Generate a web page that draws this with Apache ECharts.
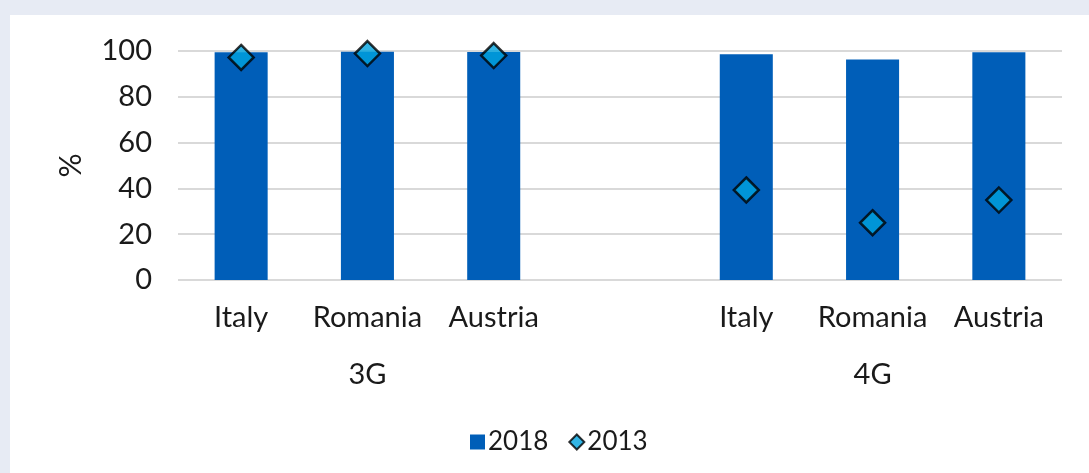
<!DOCTYPE html>
<html>
<head>
<meta charset="utf-8">
<script src="https://cdn.jsdelivr.net/npm/echarts@6/dist/echarts.min.js"></script>
<style>
  html, body { margin: 0; padding: 0; background: #E7EBF4; width: 1089px; height: 473px; overflow: hidden; }
  #panel { position: absolute; left: 10px; top: 15px; width: 1079px; height: 458px; background: #ffffff; }
  #chart { width: 1079px; height: 458px; }
</style>
</head>
<body>
<div id="panel"><div id="chart"></div></div>
<script>
// ---- data ----
const categories = ['Italy', 'Romania', 'Austria', '', 'Italy', 'Romania', 'Austria'];
const groupLabels = ['', '3G', '', '', '', '4G', ''];
const values2018 = [99.5, 99.7, 99.6, null, 98.6, 96.3, 99.4];
const values2013 = [97.2, 98.9, 98.0, null, 39.3, 25.0, 34.9];
const yTicks = { min: 0, max: 100, interval: 20 };
const seriesNames = ['2018', '2013'];

const FONT = 'Lato, "Noto Sans", sans-serif';
const TEXT = '#1a1a1a';

const chart = echarts.init(document.getElementById('chart'), null, { renderer: 'canvas' });
chart.setOption({
  animation: false,
  textStyle: { fontFamily: FONT, color: TEXT },
  grid: { left: 168, top: 36, width: 884, height: 229, containLabel: false },
  legend: {
    data: [
      { name: seriesNames[0], icon: 'rect' },
      { name: seriesNames[1], icon: 'diamond' }
    ],
    left: 455, top: 409,
    itemWidth: 15, itemHeight: 15, itemGap: 20,
    textStyle: { fontFamily: FONT, fontSize: 26, color: TEXT, padding: [0, 0, 0, -2] }
  },
  xAxis: [
    {
      type: 'category',
      data: categories,
      axisLine: { show: false },
      axisTick: { show: false },
      axisLabel: { interval: 0, fontFamily: FONT, fontSize: 29, color: TEXT, margin: 23 }
    },
    {
      type: 'category',
      data: groupLabels,
      position: 'bottom',
      offset: 58,
      axisLine: { show: false },
      axisTick: { show: false },
      axisLabel: { interval: 0, fontFamily: FONT, fontSize: 29, color: TEXT, margin: 22 }
    }
  ],
  yAxis: {
    type: 'value',
    min: yTicks.min, max: yTicks.max, interval: yTicks.interval,
    name: '%',
    nameLocation: 'middle',
    nameRotate: 90,
    nameGap: 92,
    nameTextStyle: { fontFamily: FONT, fontSize: 30, color: TEXT },
    axisLine: { show: false },
    axisTick: { show: false },
    axisLabel: { fontFamily: FONT, fontSize: 29, color: TEXT, margin: 26 },
    splitLine: { lineStyle: { color: '#D9D9D9', width: 2 } }
  },
  series: [
    {
      name: seriesNames[0],
      type: 'bar',
      data: values2018,
      barWidth: '42%',
      itemStyle: { color: '#005EB8' },
      z: 2
    },
    {
      name: seriesNames[1],
      type: 'scatter',
      data: values2013,
      symbol: 'diamond',
      symbolSize: 25,
      itemStyle: { color: '#00A3DF', borderColor: '#000000', borderWidth: 2.5 },
      z: 3
    }
  ]
});
</script>
</body>
</html>
